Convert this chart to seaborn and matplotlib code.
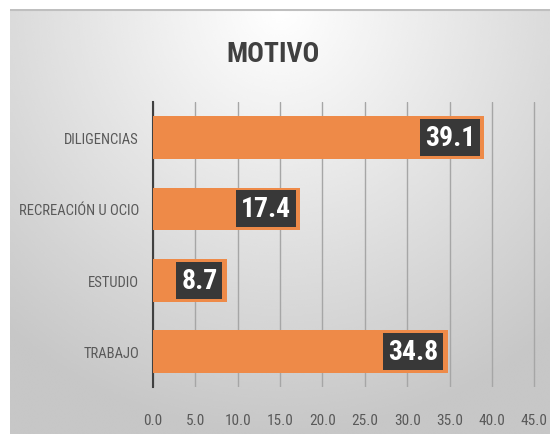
import numpy as np
import pandas as pd
import matplotlib
matplotlib.use('Agg')
from matplotlib import pyplot as plt
import seaborn as sns

# data
categorias = ['DILIGENCIAS', 'RECREACIÓN U OCIO', 'ESTUDIO', 'TRABAJO']
valores = [39.1, 17.4, 8.7, 34.8]
ticks_x = [0, 5, 10, 15, 20, 25, 30, 35, 40, 45]

df = pd.DataFrame({'motivo': categorias, 'valor': valores})

sns.set_style('white')
plt.rcParams['font.family'] = ['Roboto Condensed', 'DejaVu Sans']

fig = plt.figure(figsize=(5.5, 4.35), dpi=100)
fig.patch.set_facecolor('white')

# grey radial gradient behind the chart
bg = fig.add_axes([10 / 550, 0, 540 / 550, 425 / 435], zorder=-5)
yy, xx = np.mgrid[0:1:300j, 0:1:400j]
dist = np.sqrt(((xx - 0.5) * 1.1) ** 2 + (yy * 0.85) ** 2)
shade = 1.0 - 0.22 * np.clip(dist / 0.85, 0, 1)
bg.imshow(shade, cmap='gray', vmin=0, vmax=1, aspect='auto',
          extent=[0, 1, 1, 0], interpolation='bicubic')
bg.axhline(0.002, color='#bfbfbf', linewidth=1.5)
bg.axis('off')

ax = fig.add_axes([153 / 550, 47 / 435, 388 / 550, 285 / 435])
ax.patch.set_alpha(0)

sns.barplot(data=df, x='valor', y='motivo', orient='h', color='#EE8A48',
            width=0.6, saturation=1, linewidth=0, ax=ax, zorder=3)

for i, v in enumerate(valores):
    ax.text(v - 1.1, i, f'{v:.1f}', ha='right', va='center', color='white',
            fontsize=20, fontweight='bold', zorder=5,
            bbox=dict(boxstyle='square,pad=0.18', fc='#383838', ec='none'))

ax.set_xlim(0, 45.8)
ax.set_ylim(3.5, -0.5)
ax.set_xticks(ticks_x)
ax.set_xticklabels([f'{t:.1f}' for t in ticks_x])
ax.grid(axis='x', color='#a6a6a6', linewidth=1, zorder=0)
ax.set_axisbelow(True)
for s in ['top', 'right', 'bottom']:
    ax.spines[s].set_visible(False)
ax.spines['left'].set_color('#404040')
ax.spines['left'].set_linewidth(1.5)
ax.tick_params(axis='both', length=0, colors='#595959')
ax.tick_params(axis='x', pad=19, labelsize=11)
ax.tick_params(axis='y', pad=10, labelsize=10.5)
ax.set_xlabel('')
ax.set_ylabel('')

fig.text(273 / 550, 1 - 54 / 435, 'MOTIVO', ha='center', va='center',
         fontsize=20, fontweight='bold', color='#404040')

fig.savefig('out.png', dpi=100)
